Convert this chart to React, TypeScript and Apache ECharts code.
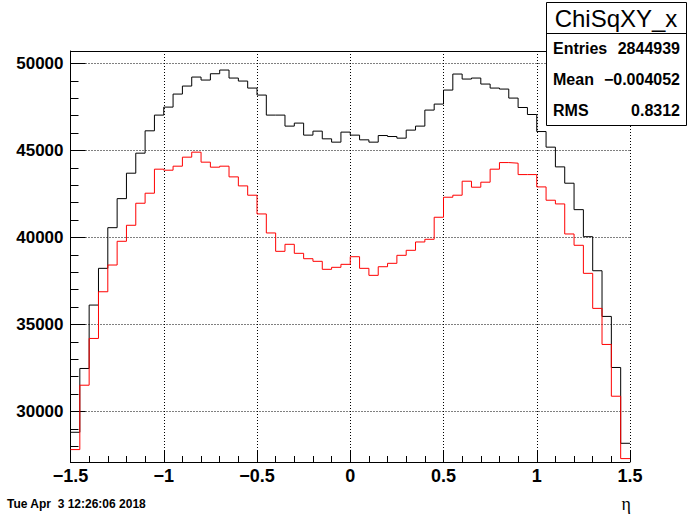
import React, { useEffect, useRef } from "react";
import * as echarts from "echarts";

// Histogram binning (60 bins of 0.05 in eta from -1.5 to 1.5)
const xRange = [-1.5, 1.5];
const binCount = 60;

// Bin contents
const blackCounts = [
  28808, 32473, 36116, 38227, 40563, 42232, 43693, 44844, 46128, 47031,
  47491, 48239, 48700, 49217, 49045, 49407, 49620, 49160, 48987, 48584,
  48182, 47031, 47031, 46398, 46571, 45880, 46110, 45667, 45477, 46053,
  45880, 45610, 45477, 45857, 45800, 45707, 46168, 46398, 47319, 47664,
  48469, 49390, 49102, 49160, 48815, 48584, 48527, 48009, 47468, 47065,
  46087, 45190, 44056, 43118, 41599, 40046, 38089, 35465, 32531, 28175,
];
const redCounts = [
  27813, 31512, 34199, 36881, 38417, 39781, 40701, 41967, 42543, 43924,
  43866, 44096, 44614, 44902, 44327, 44039, 44096, 43481, 42963, 42428,
  41352, 40259, 39205, 39608, 39090, 38780, 38630, 38170, 38285, 38457,
  38895, 38227, 37824, 38319, 38515, 38975, 39263, 39741, 39896, 41162,
  42313, 42428, 43233, 42888, 43176, 43924, 44304, 44269, 43613, 43613,
  42905, 42140, 41927, 40201, 39551, 37940, 35926, 33854, 30879, 27295,
];

const yRange = [27100, 50714];
const histTitle = "ChiSqXY_x";
const statLabels = ["Entries", "Mean", "RMS"];
const statValues = ["2844939", "\u22120.004052", "0.8312"];
const dateText = "Tue Apr  3 12:26:06 2018";
const xTitle = "\u03b7";

function stepData(counts: number[]) {
  const w = (xRange[1] - xRange[0]) / binCount;
  const pts: [number, number][] = counts.map((c, i) => [
    Math.round((xRange[0] + i * w) * 1e6) / 1e6,
    c,
  ]);
  pts.push([xRange[1], counts[counts.length - 1]]);
  return pts;
}

const FONT = "Liberation Sans";

export default function App() {
  const ref = useRef<HTMLDivElement>(null);
  useEffect(() => {
    if (!ref.current) return;
    const chart = echarts.init(ref.current, null, { renderer: "svg" });
    const dotted = { color: "#000", width: 1, type: [1, 2] as any };
    const statRowsY = [48, 79, 110];
    const graphics: any[] = [
      {
        type: "rect",
        shape: { x: 546.5, y: 2.5, width: 140, height: 123 },
        style: { fill: "#fff", stroke: "#000", lineWidth: 1 },
        z: 100,
      },
      {
        type: "line",
        shape: { x1: 546.5, y1: 33.5, x2: 686.5, y2: 33.5 },
        style: { stroke: "#000", lineWidth: 1 },
        z: 101,
      },
      {
        type: "text",
        x: 616,
        y: 18,
        style: {
          text: histTitle,
          font: `normal 24px "${FONT}"`,
          fill: "#000",
          align: "center",
          verticalAlign: "middle",
        },
        z: 101,
      },
      ...statLabels.map((t, i) => ({
        type: "text",
        x: 553,
        y: statRowsY[i],
        style: {
          text: t,
          font: `bold 16px "${FONT}"`,
          fill: "#000",
          align: "left",
          verticalAlign: "middle",
        },
        z: 101,
      })),
      ...statValues.map((t, i) => ({
        type: "text",
        x: 680,
        y: statRowsY[i],
        style: {
          text: t,
          font: `bold 16px "${FONT}"`,
          fill: "#000",
          align: "right",
          verticalAlign: "middle",
        },
        z: 101,
      })),
      {
        type: "text",
        x: 7,
        y: 504,
        style: {
          text: dateText,
          font: `bold 12px "${FONT}"`,
          fill: "#000",
          align: "left",
          verticalAlign: "middle",
        },
      },
      {
        type: "text",
        x: 631,
        y: 504,
        style: {
          text: xTitle,
          font: `normal 18px "Liberation Serif"`,
          fill: "#000",
          align: "right",
          verticalAlign: "middle",
        },
      },
    ];

    chart.setOption({
      animation: false,
      backgroundColor: "#fff",
      grid: { left: 70.5, right: 70, top: 51, bottom: 52, containLabel: false },
      xAxis: [
        {
          type: "value",
          min: xRange[0],
          max: xRange[1],
          interval: 0.5,
          axisLine: { show: true, onZero: false, lineStyle: { color: "#000", width: 1 } },
          axisTick: { show: true, inside: true, length: 12, lineStyle: { color: "#000" } },
          minorTick: { show: true, splitNumber: 5, length: 6, lineStyle: { color: "#000" } },
          splitLine: { show: true, lineStyle: dotted },
          axisLabel: {
            margin: 5,
            color: "#000",
            fontFamily: FONT,
            fontWeight: "bold",
            fontSize: 18,
            formatter: (v: number) => (v < 0 ? "\u2212" + Math.abs(v) : String(v)),
          },
        },
        {
          type: "value",
          position: "top",
          min: xRange[0],
          max: xRange[1],
          axisLine: { show: true, onZero: false, lineStyle: { color: "#000", width: 1 } },
          axisTick: { show: false },
          axisLabel: { show: false },
          splitLine: { show: false },
        },
      ],
      yAxis: [
        {
          type: "value",
          min: yRange[0],
          max: yRange[1],
          splitNumber: 5,
          position: "left",
          axisLine: { show: true, onZero: false, lineStyle: { color: "#000", width: 1 } },
          axisTick: { show: true, inside: true, length: 15, lineStyle: { color: "#000" } },
          splitLine: { show: true, lineStyle: dotted },
          axisLabel: {
            margin: 7,
            color: "#000",
            fontFamily: FONT,
            fontWeight: "bold",
            fontSize: 17,
            showMinLabel: false,
            showMaxLabel: false,
            formatter: (v: number) => (Math.round(v) % 5000 === 0 ? String(Math.round(v)) : ""),
          },
        },
        {
          type: "value",
          min: yRange[0],
          max: yRange[1],
          splitNumber: 24,
          position: "left",
          axisLine: { show: false, onZero: false },
          axisTick: { show: true, inside: true, length: 8, lineStyle: { color: "#000" } },
          splitLine: { show: false },
          axisLabel: { show: false },
        },
      ],
      series: [
        {
          type: "line",
          step: "end",
          data: stepData(blackCounts),
          showSymbol: false,
          symbol: "none",
          lineStyle: { color: "#000", width: 1 },
          itemStyle: { color: "#000" },
          clip: true,
          z: 3,
        },
        {
          type: "line",
          step: "end",
          data: stepData(redCounts),
          showSymbol: false,
          symbol: "none",
          lineStyle: { color: "#ff0000", width: 1 },
          itemStyle: { color: "#ff0000" },
          clip: true,
          z: 4,
        },
      ],
      graphic: graphics,
    });
    return () => chart.dispose();
  }, []);
  return (
    <div
      ref={ref}
      style={{ position: "absolute", left: 0, top: 0, width: 700, height: 514 }}
    />
  );
}
